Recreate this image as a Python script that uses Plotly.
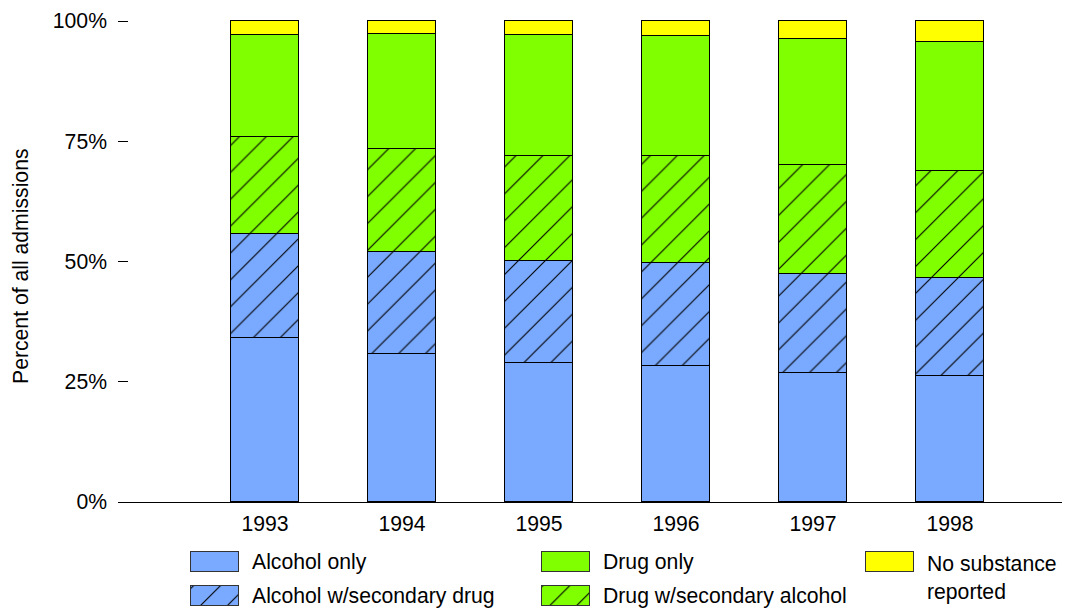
import plotly.graph_objects as go

years = ["1993", "1994", "1995", "1996", "1997", "1998"]
alcohol_only = [34.0, 30.7, 28.8, 28.2, 26.8, 26.2]
alcohol_sec_drug = [21.7, 21.3, 21.2, 21.4, 20.6, 20.3]
drug_sec_alcohol = [20.2, 21.3, 21.9, 22.3, 22.7, 22.3]
drug_only = [21.2, 23.9, 25.2, 25.0, 26.1, 26.7]
no_substance = [2.9, 2.8, 2.9, 3.1, 3.8, 4.5]

y_ticks = [0, 25, 50, 75, 100]
y_tick_labels = ["0%", "25%", "50%", "75%", "100%"]

BLUE = "#7aaaff"
GREEN = "#80ff00"
YELLOW = "#ffff00"
FONT = "Liberation Sans, Arial, sans-serif"
FS = 21.2

W, H = 1075, 608
series = [
    ("Alcohol only", alcohol_only, BLUE, ""),
    ("Alcohol w/secondary drug", alcohol_sec_drug, BLUE, "/"),
    ("Drug w/secondary alcohol", drug_sec_alcohol, GREEN, "/"),
    ("Drug only", drug_only, GREEN, ""),
    ("No substance reported", no_substance, YELLOW, ""),
]

fig = go.Figure()
xpos = list(range(len(years)))
for name, vals, col, pat in series:
    fig.add_trace(go.Bar(
        x=xpos, y=vals, name=name, width=0.5,
        marker=dict(color=col, line=dict(color="black", width=1),
                    pattern=dict(shape=pat, fgcolor="black", bgcolor=col,
                                 size=19, solidity=0.06)),
        showlegend=False, hoverinfo="skip",
    ))

# Custom legend drawn on an overlay axis whose units are pixels
legend_items = [
    ("Alcohol only", BLUE, "", 191, 562),
    ("Alcohol w/secondary drug", BLUE, "/", 191, 596),
    ("Drug only", GREEN, "", 542, 562),
    ("Drug w/secondary alcohol", GREEN, "/", 542, 596),
    ("No substance<br>reported", YELLOW, "", 866, 562),
]
for label, col, pat, lx, ly in legend_items:
    fig.add_trace(go.Bar(
        x=[48], y=[ly], base=[lx], orientation="h", width=20,
        xaxis="x2", yaxis="y2",
        marker=dict(color=col, line=dict(color="#333333", width=1),
                    pattern=dict(shape=pat, fgcolor="black", bgcolor=col,
                                 size=19, solidity=0.06)),
        showlegend=False, hoverinfo="skip",
    ))
    multi = "<br>" in label
    fig.add_annotation(x=lx + 59, y=ly - 12 if multi else ly, xref="x2", yref="y2",
                       text=label, showarrow=False, xanchor="left",
                       yanchor="top" if multi else "middle", align="left",
                       font=dict(family=FONT, size=FS, color="black"))

fig.add_annotation(x=20 / W, y=1 - 266 / H, xref="paper", yref="paper",
                   text="Percent of all admissions", textangle=-90,
                   xanchor="center", yanchor="middle",
                   showarrow=False, font=dict(family=FONT, size=FS, color="black"))

x_left, x_right = 118, 1062
y_top_px, y_bot_px = 16.2, 502
fig.update_layout(
    width=W, height=H, barmode="stack", bargap=0,
    template="none",
    paper_bgcolor="white", plot_bgcolor="rgba(0,0,0,0)",
    margin=dict(l=0, r=0, t=0, b=0),
    showlegend=False,
    font=dict(family=FONT, size=FS, color="black"),
    xaxis=dict(domain=[x_left / W, x_right / W],
               range=[-(265 - x_left) / 137, 5 + (x_right - 950) / 137],
               tickvals=xpos, ticktext=years, showgrid=False, zeroline=False,
               showline=True, linecolor="black", linewidth=1, ticks="",
               ticklabelstandoff=3, automargin=False,
               tickfont=dict(family=FONT, size=FS, color="black")),
    yaxis=dict(domain=[(H - y_bot_px) / H, (H - y_top_px) / H],
               range=[0, 101], tickvals=y_ticks, ticktext=y_tick_labels,
               showgrid=False, zeroline=False, showline=False,
               ticks="inside", ticklen=10, tickcolor="black",
               ticklabelstandoff=10, automargin=False,
               tickfont=dict(family=FONT, size=FS, color="black")),
    xaxis2=dict(domain=[0, 1], range=[0, W], visible=False, anchor="y2",
                automargin=False, fixedrange=True),
    yaxis2=dict(domain=[0, 1], range=[H, 0], visible=False, anchor="x2",
                automargin=False, fixedrange=True),
)

fig.write_html("out.html", config={"displayModeBar": False},
               post_script="document.body.style.margin='0px';document.body.style.overflow='hidden';")
